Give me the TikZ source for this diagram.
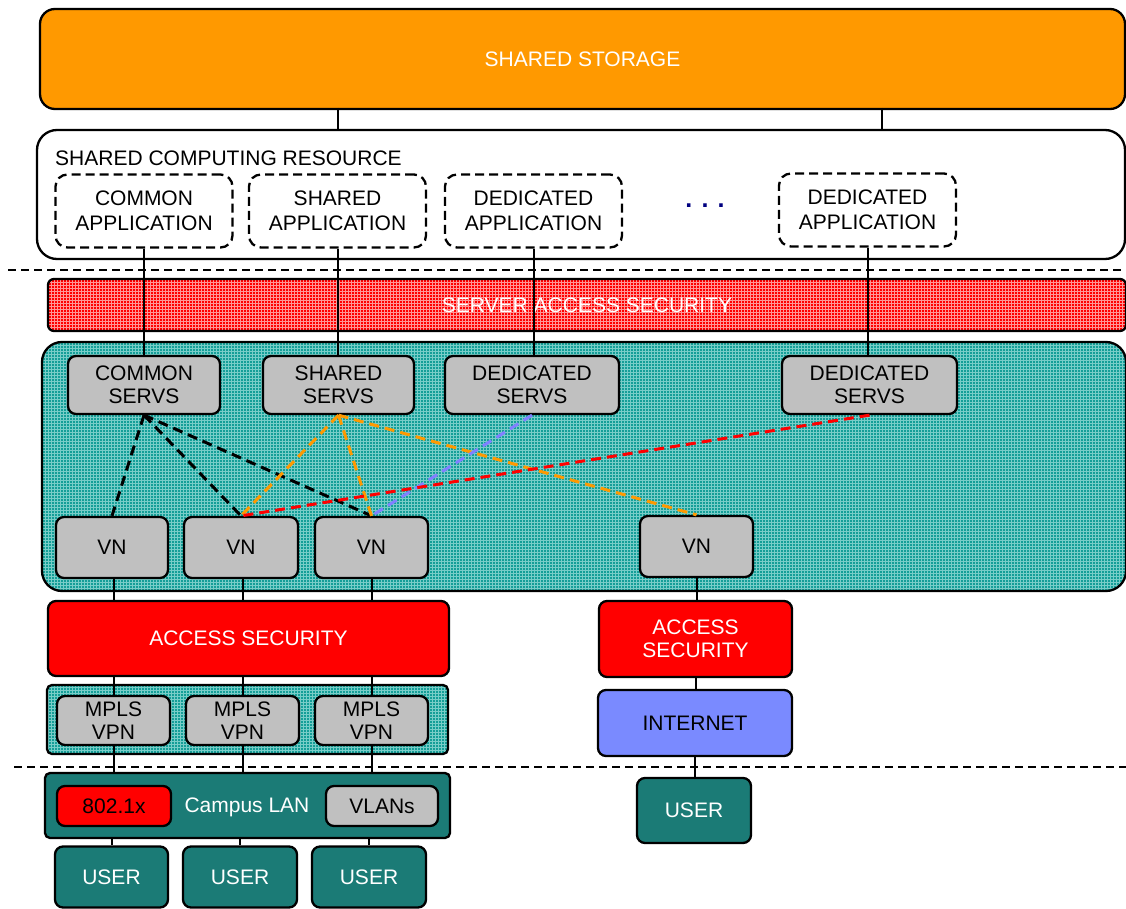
\documentclass[tikz,border=0pt]{standalone}
\usepackage{fontspec}
\setmainfont{Liberation Sans}
\usetikzlibrary{patterns}
\definecolor{storeorange}{RGB}{255,153,0}
\definecolor{boxgray}{RGB}{192,192,192}
\definecolor{lanteal}{RGB}{27,123,118}
\definecolor{srvteal}{RGB}{20,158,152}
\definecolor{srvline}{RGB}{120,205,200}
\definecolor{sasline}{RGB}{255,150,150}
\definecolor{inetblue}{RGB}{122,138,255}
\definecolor{dotnavy}{RGB}{0,0,128}
\definecolor{dashblue}{RGB}{128,128,255}
\definecolor{dashorange}{RGB}{255,153,0}
\tikzstyle{box} = [rectangle, rounded corners=8pt, draw=black, line width=2.3pt, align=center, inner sep=0pt, font=\fontsize{21}{23}\selectfont]
\tikzstyle{graybox} = [box, fill=boxgray]
\tikzstyle{appbox} = [box, fill=white, rounded corners=12pt, dash pattern=on 9pt off 5pt, minimum width=177pt, minimum height=73pt, font=\fontsize{21}{25}\selectfont]
\tikzstyle{area} = [rectangle, rounded corners=20pt, draw=black, line width=2.3pt, inner sep=0pt]
\tikzstyle{tealarea} = [area, preaction={fill=srvteal}, pattern=grid, pattern color=srvline]
\tikzstyle{userbox} = [box, fill=lanteal, text=white]
\tikzstyle{redbox} = [box, fill=red, text=white]
\tikzstyle{link} = [line width=2pt]
\tikzstyle{vlink} = [line width=3pt, dash pattern=on 10pt off 6pt]
\tikzstyle{sep} = [line width=1.5pt, dash pattern=on 8pt off 5pt]

\begin{document}
\begin{tikzpicture}[x=1pt, y=-1pt]
\useasboundingbox (0,0) rectangle (1126,909);

% storage and computing
\node (storage) [box, rounded corners=15pt, fill=storeorange, text=white, minimum width=1085pt, minimum height=100pt] at (582.5,59) {SHARED STORAGE};
\node (compres) [area, fill=white, minimum width=1088pt, minimum height=129pt] at (581,194.5) {};
\node (comptitle) [anchor=west, inner sep=0pt, font=\fontsize{21}{23}\selectfont] at (55,158) {SHARED COMPUTING RESOURCE};

\node (commonapp) [appbox] at (144,211) {COMMON\\APPLICATION};
\node (sharedapp) [appbox] at (337.5,211) {SHARED\\APPLICATION};
\node (dedapp) [appbox] at (533.5,211) {DEDICATED\\APPLICATION};
\node (dedappb) [appbox] at (867.5,210) {DEDICATED\\APPLICATION};
\node (moreapps) [text=dotnavy, font=\fontsize{25}{25}\bfseries] at (705,206) {. . .};

\node[coordinate] (l_storage) at (338,108) {};
\node[coordinate] (r_storage) at (882,108) {};

\draw [sep] (8,270) -- (1126,270);

% server side
\node (sas) [area, rounded corners=6pt, preaction={fill=red}, pattern=grid, pattern color=sasline, text=white, font=\fontsize{21}{23}\selectfont, minimum width=1078pt, minimum height=52pt] at (587,305) {SERVER ACCESS SECURITY};
\node (srvarea) [tealarea, minimum width=1084pt, minimum height=249pt] at (584,466.5) {};

\node (commonsrv) [graybox, minimum width=152pt, minimum height=58pt] at (144,385) {COMMON\\SERVS};
\node (sharedsrv) [graybox, minimum width=151pt, minimum height=58pt] at (338.5,385) {SHARED\\SERVS};
\node (dedsrv) [graybox, minimum width=174pt, minimum height=58pt] at (532,385) {DEDICATED\\SERVS};
\node (dedsrvb) [graybox, minimum width=175pt, minimum height=58pt] at (869.5,385) {DEDICATED\\SERVS};

\node (vna) [graybox, minimum width=112pt, minimum height=61pt] at (112,547.5) {VN};
\node (vnb) [graybox, minimum width=114pt, minimum height=61pt] at (241,547.5) {VN};
\node (vnc) [graybox, minimum width=113pt, minimum height=61pt] at (371.5,547.5) {VN};
\node (vnd) [graybox, minimum width=113pt, minimum height=61pt] at (696.5,546.5) {VN};

% access side
\node (accl) [redbox, minimum width=401pt, minimum height=75pt] at (248.5,638.5) {ACCESS SECURITY};
\node (accr) [redbox, minimum width=193pt, minimum height=76pt] at (695.5,639) {ACCESS\\SECURITY};

\node (mplsarea) [tealarea, rounded corners=5pt, minimum width=401pt, minimum height=69pt] at (247.5,719.5) {};
\node (mplsa) [graybox, minimum width=113pt, minimum height=49pt] at (113.5,720.5) {MPLS\\VPN};
\node (mplsb) [graybox, minimum width=113pt, minimum height=49pt] at (242.5,720.5) {MPLS\\VPN};
\node (mplsc) [graybox, minimum width=113pt, minimum height=49pt] at (371.5,720.5) {MPLS\\VPN};
\node (inet) [box, fill=inetblue, minimum width=194pt, minimum height=66pt] at (695,723) {INTERNET};

\draw [sep] (14,767) -- (1126,767);

\node (lan) [box, rounded corners=5pt, fill=lanteal, minimum width=405pt, minimum height=65pt] at (247.5,805.5) {};
\node (dotx) [box, fill=red, minimum width=114pt, minimum height=40pt] at (114,806) {802.1x};
\node (lantext) [text=white, font=\fontsize{21}{23}\selectfont] at (247,807) {Campus LAN};
\node (vlans) [graybox, minimum width=112pt, minimum height=40pt] at (382,806) {VLANs};

\node (usera) [userbox, minimum width=113pt, minimum height=61pt] at (111.5,877) {USER};
\node (userb) [userbox, minimum width=114pt, minimum height=61pt] at (240,877) {USER};
\node (userc) [userbox, minimum width=114pt, minimum height=61pt] at (369,877) {USER};
\node (userd) [userbox, minimum width=114pt, minimum height=65pt] at (694,810.5) {USER};

% links
\draw [link] (l_storage) -- (l_storage |- compres.north);
\draw [link] (r_storage) -- (r_storage |- compres.north);
\draw [link] (commonapp) -- (commonapp |- commonsrv.north);
\draw [link] (sharedapp) -- (sharedapp |- sharedsrv.north);
\draw [link] (dedapp) -- (dedapp |- dedsrv.north);
\draw [link] (dedappb) -- (dedappb |- dedsrvb.north);

\draw [link] (mplsa |- vna.south) -- (mplsa |- accl.north);
\draw [link] (mplsb |- vnb.south) -- (mplsb |- accl.north);
\draw [link] (mplsc |- vnc.south) -- (mplsc |- accl.north);
\draw [link] (mplsa |- accl.south) -- (mplsa);
\draw [link] (mplsb |- accl.south) -- (mplsb);
\draw [link] (mplsc |- accl.south) -- (mplsc);
\draw [link] (mplsa) -- (mplsa |- lan.north);
\draw [link] (mplsb) -- (mplsb |- lan.north);
\draw [link] (mplsc) -- (mplsc |- lan.north);
\draw [link] (usera |- lan.south) -- (usera);
\draw [link] (userb |- lan.south) -- (userb);
\draw [link] (userc |- lan.south) -- (userc);

\draw [link] (vnd) -- (vnd |- accr.north);
\draw [link] (accr) -- (accr |- inet.north);
\draw [link] (inet) -- (inet |- userd.north);

% virtual links
\draw [vlink] (commonsrv.south) -- (vna.north);
\draw [vlink] (commonsrv.south) -- (vnb.north);
\draw [vlink] (commonsrv.south) -- (vnc.north);
\draw [vlink, dashorange] (sharedsrv.south) -- (vnb.north);
\draw [vlink, dashorange] (sharedsrv.south) -- (vnc.north);
\draw [vlink, dashorange] (sharedsrv.south) -- (vnd.north);
\draw [vlink, dashblue] (dedsrv.south) -- (vnc.north);
\draw [vlink, red] (dedsrvb.south) -- (vnb.north);

\end{tikzpicture}
\end{document}
